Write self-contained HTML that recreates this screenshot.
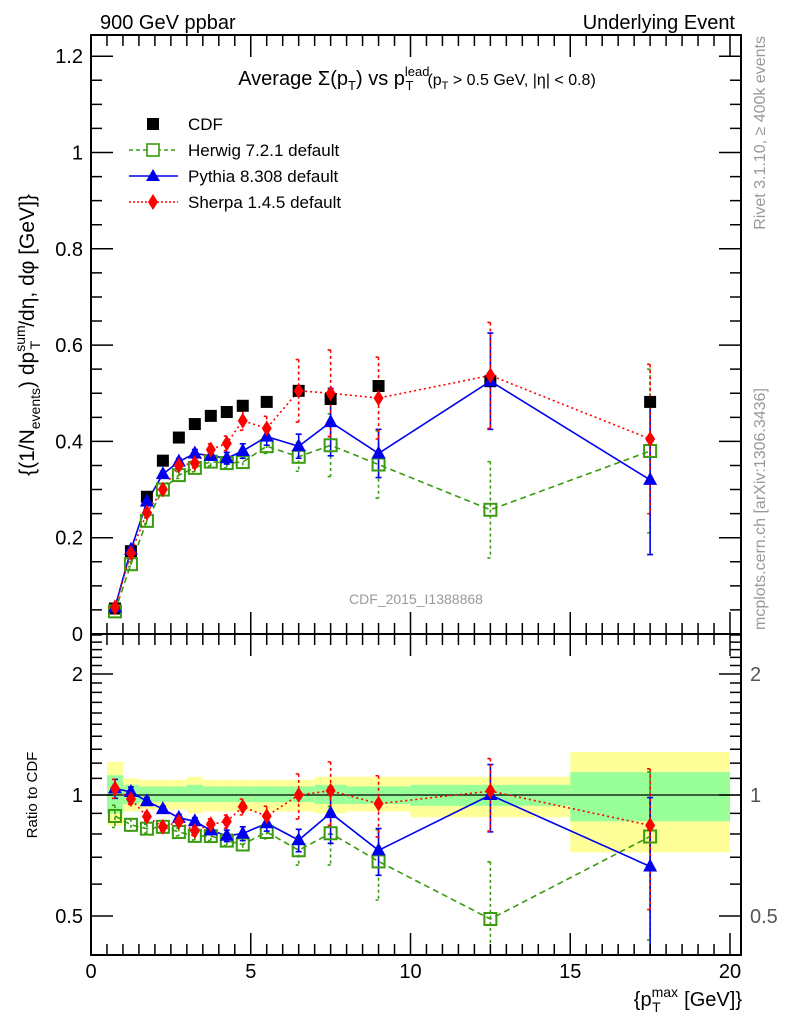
<!DOCTYPE html>
<html><head><meta charset="utf-8"><style>
body{margin:0;background:#fff}
svg{display:block;font-family:"Liberation Sans",sans-serif}
</style></head><body>
<svg id="c" width="786" height="1024" viewBox="0 0 786 1024">
<rect width="786" height="1024" fill="#fff"/>
<text x="100" y="29" font-size="20">900 GeV ppbar</text>
<text x="735" y="29" font-size="20" text-anchor="end">Underlying Event</text>
<text x="417" y="85" font-size="20" text-anchor="middle">Average Σ(p<tspan font-size="13" dy="5">T</tspan><tspan dy="-5">) vs p</tspan><tspan font-size="13" dy="-9">lead</tspan><tspan font-size="13" dx="-24" dy="14">T</tspan><tspan font-size="16" dx="14" dy="-5">(p</tspan><tspan font-size="11" dy="4">T</tspan><tspan font-size="16" dy="-4"> &gt; 0.5 GeV, |η| &lt; 0.8)</tspan></text>
<text transform="translate(765,36) rotate(-90)" font-size="16" fill="#999" text-anchor="end">Rivet 3.1.10, ≥ 400k events</text>
<text transform="translate(765,630) rotate(-90)" font-size="16" fill="#999">mcplots.cern.ch [arXiv:1306.3436]</text>
<text x="416" y="604" font-size="14" fill="#999" text-anchor="middle">CDF_2015_I1388868</text>
<text transform="translate(34,335) rotate(-90)" font-size="21" text-anchor="middle">{(1/N<tspan font-size="14" dy="6">events</tspan><tspan dy="-6">) dp</tspan><tspan font-size="14" dy="-9">sum</tspan><tspan font-size="14" dx="-24" dy="15">T</tspan><tspan dx="14" dy="-6">/dη, dφ [GeV]}</tspan></text>
<text transform="translate(37,795) rotate(-90)" font-size="15" text-anchor="middle">Ratio to CDF</text>
<text x="742" y="1006" font-size="20" text-anchor="end">{p<tspan font-size="14" dy="-9">max</tspan><tspan font-size="14" dx="-26" dy="15">T</tspan><tspan dx="18" dy="-6"> [GeV]}</tspan></text>
<g id="bands"></g><g id="marks"></g><g id="axes"></g>
<g id="legend"></g>
</svg>
<script>
const binLo=[0.5,1,1.5,2,2.5,3,3.5,4,4.5,5,6,7,8,10,15];
const binHi=[1,1.5,2,2.5,3,3.5,4,4.5,5,6,7,8,10,15,20];
const xCenters=[0.75,1.25,1.75,2.25,2.75,3.25,3.75,4.25,4.75,5.5,6.5,7.5,9,12.5,17.5];
const cdf=[0.053,0.172,0.285,0.36,0.408,0.436,0.453,0.461,0.474,0.482,0.505,0.488,0.515,0.525,0.482];
const cdfStatUp=[1.12,1.06,1.05,1.05,1.05,1.06,1.05,1.05,1.05,1.05,1.05,1.06,1.05,1.06,1.14];
const cdfStatDn=[0.90,0.95,0.96,0.96,0.96,0.96,0.96,0.96,0.96,0.96,0.96,0.95,0.95,0.94,0.86];
const cdfTotUp=[1.21,1.10,1.09,1.09,1.09,1.11,1.09,1.09,1.09,1.09,1.09,1.11,1.11,1.11,1.28];
const cdfTotDn=[0.84,0.91,0.92,0.92,0.92,0.90,0.91,0.91,0.91,0.91,0.91,0.90,0.91,0.88,0.72];
const herwig=[0.047,0.145,0.235,0.30,0.33,0.345,0.358,0.355,0.357,0.39,0.368,0.392,0.352,0.258,0.38];
const herwigErr=[0.003,0.005,0.006,0.006,0.007,0.008,0.009,0.01,0.012,0.015,0.03,0.065,0.07,0.1,0.17];
const pythia=[0.055,0.175,0.275,0.332,0.358,0.375,0.37,0.365,0.38,0.41,0.39,0.44,0.375,0.525,0.32];
const pythiaErr=[0.003,0.005,0.006,0.006,0.007,0.008,0.009,0.012,0.015,0.018,0.025,0.07,0.05,0.1,0.155];
const sherpa=[0.055,0.168,0.252,0.30,0.35,0.355,0.383,0.396,0.443,0.427,0.505,0.5,0.49,0.537,0.405];
const sherpaErr=[0.003,0.005,0.006,0.007,0.008,0.01,0.012,0.015,0.02,0.025,0.065,0.09,0.085,0.11,0.155];
const xTicks=[0,5,10,15,20];
const yTicks=[0,0.2,0.4,0.6,0.8,1,1.2];
const rTicks=[0.5,1,2];

const NS="http://www.w3.org/2000/svg";
const X0=91,X1=741,T0=35,T1=634,R0=634,R1=955;
const sx=v=>X0+v*31.95;
const sy=v=>634-v*481.5;
const sr=v=>795-121*Math.log2(v);
function mk(parent,tag,attrs){const e=document.createElementNS(NS,tag);for(const k in attrs)e.setAttribute(k,attrs[k]);document.getElementById(parent).appendChild(e);return e;}

for(let i=0;i<binLo.length;i++){
  const y=mk('bands','rect',{x:sx(binLo[i]),width:sx(binHi[i])-sx(binLo[i]),y:sr(cdfTotUp[i]),height:sr(cdfTotDn[i])-sr(cdfTotUp[i]),fill:'#ffff99'});
  
  
  const g=mk('bands','rect',{x:sx(binLo[i]),width:sx(binHi[i])-sx(binLo[i]),y:sr(cdfStatUp[i]),height:sr(cdfStatDn[i])-sr(cdfStatUp[i]),fill:'#99ff99'});
  
  
}
const one=mk('bands','line',{x1:X0,x2:X1,y1:sr(1),y2:sr(1),stroke:'#000','stroke-width':1.3});



function marker(shape,cx,cy,col,name){
  let e;
  if(shape==='sq') e=mk('marks','rect',{x:cx-6,y:cy-6,width:12,height:12,fill:'#000'});
  else if(shape==='osq') e=mk('marks','rect',{x:cx-6,y:cy-6,width:12,height:12,fill:'none',stroke:col,'stroke-width':2});
  else if(shape==='tri') e=mk('marks','path',{d:`M${cx},${cy-8}L${cx+7},${cy+5}L${cx-7},${cy+5}Z`,fill:col});
  else e=mk('marks','path',{d:`M${cx},${cy-8}L${cx+5},${cy}L${cx},${cy+8}L${cx-5},${cy}Z`,fill:col});
  
  
}
const series=[
 {v:herwig,e:herwigErr,col:'#3a9a10',dash:'6,4',shape:'osq',name:'herwig'},
 {v:pythia,e:pythiaErr,col:'#0000ee',dash:'',shape:'tri',name:'pythia'},
 {v:sherpa,e:sherpaErr,col:'#ff0000',dash:'2,3',shape:'dia',name:'sherpa'}];
for(const s of series){
  for(const panel of ['main','ratio']){
    const f=panel==='main'?(i=>sy(s.v[i])):(i=>sr(s.v[i]/cdf[i]));
    const pts=xCenters.map((x,i)=>sx(x)+','+f(i)).join(' ');
    const l=mk('marks','polyline',{points:pts,fill:'none',stroke:s.col,'stroke-width':1.6,'stroke-dasharray':s.dash});
    
    
    xCenters.forEach((x,i)=>{
      let a,b;
      if(panel==='main'){a=sy(s.v[i]+s.e[i]);b=sy(Math.max(s.v[i]-s.e[i],0.001));}
      else{a=sr((s.v[i]+s.e[i])/cdf[i]);b=sr(Math.max(s.v[i]-s.e[i],0.01)/cdf[i]);}
      b=Math.min(b,panel==='main'?T1:R1);
      const eb=mk('marks','path',{d:`M${sx(x)},${a}V${b}M${sx(x)-3},${a}h6M${sx(x)-3},${b}h6`,stroke:s.col,'stroke-width':1.6,'stroke-dasharray':s.dash?'3,3':'',fill:'none'});
      
      
    });
  }
}
xCenters.forEach((x,i)=>marker('sq',sx(x),sy(cdf[i]),'#000','cdf-point'));
for(const s of series){
  xCenters.forEach((x,i)=>{marker(s.shape,sx(x),sy(s.v[i]),s.col,s.name+'-point');marker(s.shape,sx(x),sr(s.v[i]/cdf[i]),s.col,s.name+'-ratio-point');});
}
for(const [a,b,n] of [[T0,T1,'main-plot-frame'],[R0,R1,'ratio-plot-frame']]){
  const f=mk('axes','rect',{x:X0,y:a,width:X1-X0,height:b-a,fill:'none',stroke:'#000','stroke-width':2});
  
  
}
let d='';
for(let v=0;v<=20.3;v+=0.5){const maj=Math.abs(v/5-Math.round(v/5))<1e-6;const L=maj?22:11;const x=sx(v);
  d+=`M${x},${T1}v${-L}M${x},${T0}v${L}M${x},${R1}v${-L}M${x},${R0}v${L}`;}
for(let v=0;v<=1.25;v+=0.05){const maj=Math.abs(v/0.2-Math.round(v/0.2))<1e-6;const L=maj?22:11;const y=sy(v);if(y<T0)continue;
  d+=`M${X0},${y}h${L}M${X1},${y}h${-L}`;}
const rt=[0.4,0.5,0.6,0.7,0.8,0.9,1,1.1,1.2,1.3,1.4,1.5,1.6,1.7,1.8,1.9,2,2.1,2.2,2.3,2.4,2.5];
for(const v of rt){const maj=rTicks.includes(v);const L=maj?22:11;const y=sr(v);d+=`M${X0},${y}h${L}M${X1},${y}h${-L}`;}
const tk=mk('axes','path',{d:d,stroke:'#000','stroke-width':1.5,fill:'none'});


for(const v of xTicks){const t=mk('axes','text',{x:sx(v),y:978,'font-size':20,'text-anchor':'middle'});t.textContent=v;
  
  }
for(const v of yTicks){const t=mk('axes','text',{x:83,y:sy(v)+7,'font-size':20,'text-anchor':'end'});t.textContent=v;
  
  }
for(const v of rTicks){
  const t=mk('axes','text',{x:83,y:sr(v)+7,'font-size':20,'text-anchor':'end'});t.textContent=v;
  
  
  const t2=mk('axes','text',{x:750,y:sr(v)+7,'font-size':20,'fill':'#555'});t2.textContent=v;
  
  }
const leg=[['CDF','#000','','sq'],['Herwig 7.2.1 default','#3a9a10','4,3','osq'],['Pythia 8.308 default','#0000ee','','tri'],['Sherpa 1.4.5 default','#ff0000','2,2','dia']];
leg.forEach((l,i)=>{
  const y=124+i*26;
  if(i>0){const ln=mk('legend','line',{x1:129,x2:178,y1:y,y2:y,stroke:l[1],'stroke-width':1.5,'stroke-dasharray':l[2]});
    
    }
  let e;const cx=153,cy=y;
  if(l[3]==='sq') e=mk('legend','rect',{x:cx-6,y:cy-6,width:12,height:12,fill:'#000'});
  else if(l[3]==='osq') e=mk('legend','rect',{x:cx-6,y:cy-6,width:12,height:12,fill:'#fff',stroke:l[1],'stroke-width':1.6});
  else if(l[3]==='tri') e=mk('legend','path',{d:`M${cx},${cy-7}L${cx+7},${cy+5}L${cx-7},${cy+5}Z`,fill:l[1]});
  else e=mk('legend','path',{d:`M${cx},${cy-8}L${cx+5},${cy}L${cx},${cy+8}L${cx-5},${cy}Z`,fill:l[1]});
  
  
  const t=mk('legend','text',{x:188,y:y+6,'font-size':17});t.textContent=l[0];
  
  
});
</script>
</body></html>
